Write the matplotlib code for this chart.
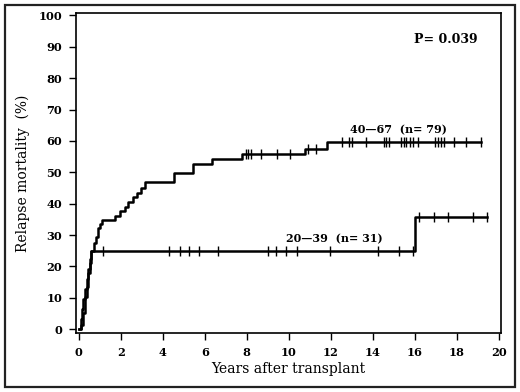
import numpy as np
import matplotlib
matplotlib.use('Agg')
import matplotlib.pyplot as plt
from matplotlib.patches import Rectangle

# 40-67 years (n=79): step times and cumulative relapse mortality (%)
old_times = [0, 0.1, 0.2, 0.29, 0.37, 0.44, 0.52, 0.6, 0.7, 0.81, 0.92, 1.03,
             1.08, 1.71, 1.95, 2.19, 2.35, 2.59, 2.78, 2.98, 3.14, 4.54, 5.44,
             6.32, 7.79, 10.76, 11.8, 19.18]
old_levels = [0, 1.3, 5, 10.3, 13.5, 17.9, 21, 25, 27.4, 29.5, 32.2, 33.5,
              34.8, 36.1, 37.7, 39.0, 40.6, 42.2, 43.5, 45.1, 46.8, 49.7, 52.7,
              54.2, 55.8, 57.5, 59.5, 59.5]
old_censored = [7.95, 8.08, 8.22, 8.68, 9.44, 10.08, 10.9, 11.3, 12.56, 12.87,
                13.03, 13.70, 14.52, 14.62, 14.78, 15.37, 15.48, 15.57, 15.76,
                15.92, 16.16, 16.95, 17.11, 17.27, 17.38, 17.86, 18.46, 19.18]

# 20-39 years (n=31)
young_times = [0, 0.08, 0.15, 0.22, 0.3, 0.37, 0.44, 0.52, 0.6, 16.0, 19.44]
young_levels = [0, 3.2, 6.4, 9.6, 12.8, 16.0, 19.2, 22.2, 25.0, 35.6, 35.6]
young_censored = [1.16, 4.30, 4.81, 5.25, 5.73, 6.63, 9.01, 9.37, 9.89, 10.41,
                  11.95, 14.25, 15.25, 15.92, 16.21, 16.92, 17.59, 18.78, 19.44]

p_text = 'P= 0.039'
old_label = '40\u201467  (n= 79)'
young_label = '20\u201439  (n= 31)'

plt.rcParams['font.family'] = ['DejaVu Serif']
plt.rcParams['font.weight'] = 'bold'

fig = plt.figure(figsize=(5.2, 3.92), dpi=100)
ax = fig.add_axes([0.146, 0.150, 0.817, 0.817])


def level_at(times, levels, t):
    i = np.searchsorted(times, t, side='right') - 1
    return np.asarray(levels)[i]


for times, levels, cens in [(old_times, old_levels, old_censored),
                            (young_times, young_levels, young_censored)]:
    ax.step(times, levels, where='post', color='black', lw=1.8)
    ax.plot(cens, level_at(times, levels, cens), ls='none', marker='|',
            color='black', ms=6.5, mew=1.0)

ax.text(17.5, 92.2, p_text, ha='center', va='center', fontsize=9)
ax.text(15.24, 63.5, old_label, ha='center', va='center', fontsize=8)
ax.text(12.19, 28.7, young_label, ha='center', va='center', fontsize=8)

ax.set_xlim(-0.14, 20.1)
ax.set_ylim(-1.3, 100.8)
ax.set_xticks(np.arange(0, 21, 2))
ax.set_yticks(np.arange(0, 101, 10))
ax.tick_params(direction='out', length=5, width=1, labelsize=8.2, pad=5)
for s in ax.spines.values():
    s.set_linewidth(1.2)
ax.set_xlabel('Years after transplant', fontsize=10, labelpad=3)
ax.set_ylabel('Relapse mortality  (%)', fontsize=10, labelpad=6)

fig.patches.append(Rectangle((5 / 520, 5 / 392), 510 / 520, 382 / 392,
                             transform=fig.transFigure, fill=False,
                             edgecolor='#222222', lw=1.6))

fig.savefig('out.png', dpi=100)
